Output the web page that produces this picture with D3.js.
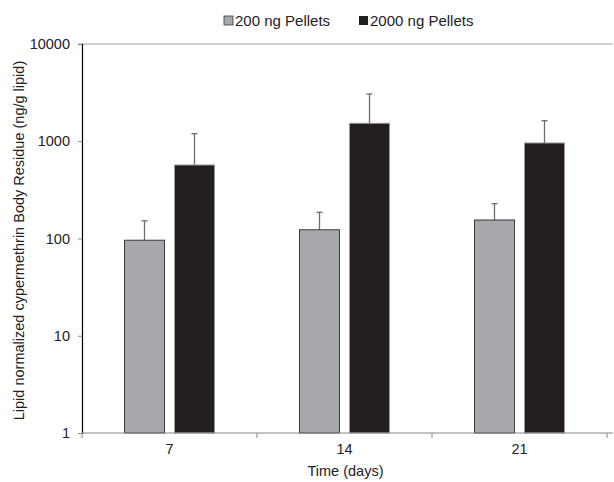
<!DOCTYPE html>
<html>
<head>
<meta charset="utf-8">
<script src="https://cdn.jsdelivr.net/npm/d3@7"></script>
<style>
  body { margin: 0; background: #fff; }
  svg { display: block; font-family: "Liberation Sans", Arial, sans-serif; }
</style>
</head>
<body>
<div id="chart"></div>
<script>
// data
var days = ["7", "14", "21"];
var series = ["200 ng Pellets", "2000 ng Pellets"];
var mean200 = [96, 123, 155];
var err200 = [152, 186, 228];     // top of error bar
var mean2000 = [570, 1530, 960];
var err2000 = [1196, 3060, 1627];
var yTicks = [1, 10, 100, 1000, 10000];
var colors = ["#a7a8ab", "#231f20"];

(function(){
var w = 614, h = 482;
var pLeft = 82, pRight = 607, pTop = 44, pBottom = 433;
var fs = 14.5;

var svg = d3.select("#chart").append("svg")
    .attr("width", w)
    .attr("height", h);

var y = d3.scaleLog().domain([1, 10000]).range([pBottom, pTop]);
var x = d3.scaleBand().domain(days).range([pLeft, pRight]);
var xs = d3.scaleBand().domain(series).range([0, x.bandwidth()])
    .paddingInner(0.2).paddingOuter(0.85);

// top frame line
svg.append("line")
    .attr("x1", pLeft - 4).attr("x2", 613)
    .attr("y1", y(10000)).attr("y2", y(10000))
    .attr("stroke", "#a0a0a0").attr("stroke-width", 1.2);

// bars
var rows = [];
days.forEach(function(d, i){
    rows.push({day: d, s: series[0], v: mean200[i], e: err200[i], c: colors[0], stroke: "#3a3a3a"});
    rows.push({day: d, s: series[1], v: mean2000[i], e: err2000[i], c: colors[1], stroke: "#9a9a9a"});
});

// error bars
var eb = svg.selectAll("g.err").data(rows).enter().append("g").attr("class", "err");
eb.append("line")
    .attr("x1", function(d){ return x(d.day) + xs(d.s) + xs.bandwidth() / 2; })
    .attr("x2", function(d){ return x(d.day) + xs(d.s) + xs.bandwidth() / 2; })
    .attr("y1", function(d){ return y(d.v); })
    .attr("y2", function(d){ return y(d.e); })
    .attr("stroke", "#6e6e6e").attr("stroke-width", 1.3);
eb.append("line")
    .attr("x1", function(d){ return x(d.day) + xs(d.s) + xs.bandwidth() / 2 - 3; })
    .attr("x2", function(d){ return x(d.day) + xs(d.s) + xs.bandwidth() / 2 + 3; })
    .attr("y1", function(d){ return y(d.e); })
    .attr("y2", function(d){ return y(d.e); })
    .attr("stroke", "#6e6e6e").attr("stroke-width", 1.3);

svg.selectAll("rect.bar").data(rows).enter().append("rect")
    .attr("class", "bar")
    .attr("x", function(d){ return x(d.day) + xs(d.s); })
    .attr("y", function(d){ return y(d.v); })
    .attr("width", xs.bandwidth())
    .attr("height", function(d){ return y(1) - y(d.v); })
    .attr("fill", function(d){ return d.c; })
    .attr("stroke", function(d){ return d.stroke; })
    .attr("stroke-width", 1);

// y axis
var yAxis = d3.axisLeft(y).tickValues(yTicks).tickFormat(d3.format("d")).tickSize(4).tickPadding(8);
var gy = svg.append("g").attr("transform", "translate(" + pLeft + ",0)").call(yAxis);
gy.select(".domain").attr("stroke", "#000").attr("stroke-width", 1.2);
gy.selectAll(".tick line").attr("stroke", "#888");
gy.selectAll("text").attr("font-size", fs).attr("fill", "#222")
    .attr("font-family", "'Liberation Sans', Arial, sans-serif");

// x axis
var xAxis = d3.axisBottom(x).tickSize(0).tickPadding(11);
var gx = svg.append("g").attr("transform", "translate(0," + pBottom + ")").call(xAxis);
gx.select(".domain").remove();
gx.selectAll("text").attr("font-size", fs).attr("fill", "#222")
    .attr("font-family", "'Liberation Sans', Arial, sans-serif");
svg.append("line")
    .attr("x1", pLeft).attr("x2", 613)
    .attr("y1", pBottom).attr("y2", pBottom)
    .attr("stroke", "#888").attr("stroke-width", 1.2);
// category separators
svg.selectAll("line.sep").data(days.concat(["end"])).enter().append("line")
    .attr("class", "sep")
    .attr("x1", function(d, i){ return pLeft + i * x.step(); })
    .attr("x2", function(d, i){ return pLeft + i * x.step(); })
    .attr("y1", pBottom).attr("y2", pBottom + 5)
    .attr("stroke", "#888");

// axis titles
svg.append("text")
    .attr("x", (pLeft + pRight) / 2 + 1).attr("y", 476)
    .attr("text-anchor", "middle").attr("font-size", fs).attr("fill", "#222")
    .text("Time (days)");
svg.append("text")
    .attr("transform", "translate(24," + ((pTop + pBottom) / 2 + 2) + ") rotate(-90)")
    .attr("text-anchor", "middle").attr("font-size", fs).attr("fill", "#222")
    .text("Lipid normalized cypermethrin Body Residue (ng/g lipid)");

// legend
var legX = [224, 359];
var leg = svg.selectAll("g.leg").data(series).enter().append("g")
    .attr("class", "leg")
    .attr("transform", function(d, i){ return "translate(" + legX[i] + ",16)"; });
leg.append("rect")
    .attr("width", 9).attr("height", 9)
    .attr("fill", function(d, i){ return colors[i]; })
    .attr("stroke", function(d, i){ return i === 0 ? "#3a3a3a" : "none"; })
    .attr("stroke-width", 0.8);
leg.append("text")
    .attr("x", 11).attr("y", 10)
    .attr("font-size", 15).attr("fill", "#222")
    .text(function(d){ return d; });
})();
</script>
</body>
</html>
